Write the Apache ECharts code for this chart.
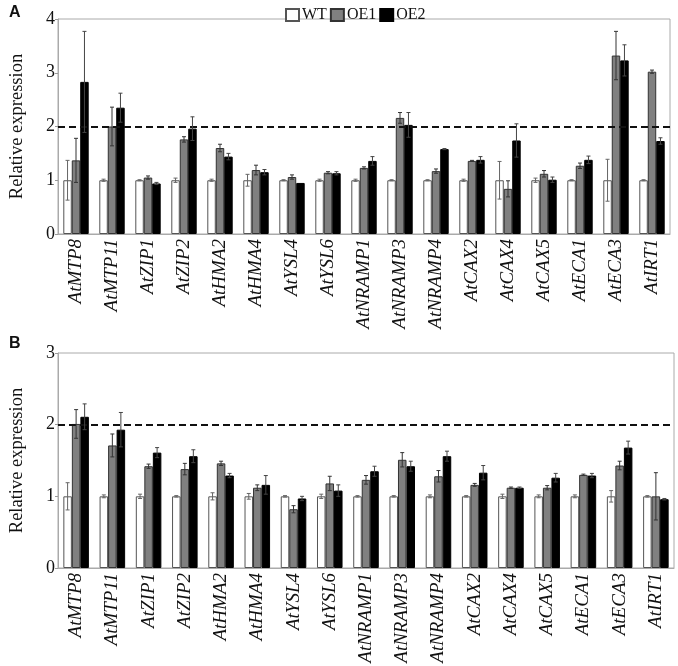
<!DOCTYPE html>
<html><head><meta charset="utf-8">
<script src="https://cdn.jsdelivr.net/npm/echarts@6/dist/echarts.min.js"></script>
<style>html,body{margin:0;padding:0;background:#fff}#c{width:678px;height:666px}</style>
</head><body><div id="c"></div>
<script>
var categories = ['AtMTP8','AtMTP11','AtZIP1','AtZIP2','AtHMA2','AtHMA4','AtYSL4','AtYSL6','AtNRAMP1','AtNRAMP3','AtNRAMP4','AtCAX2','AtCAX4','AtCAX5','AtECA1','AtECA3','AtIRT1'];
var yTicksA = [0,1,2,3,4];
var yTicksB = [0,1,2,3];

var wtA     = [1,1,1,1,1,1,1,1,1,1,1,1,1,1,1,1,1];
var wtErrA  = [0.37,0.02,0.01,0.04,0.02,0.11,0.01,0.02,0.02,0.01,0.01,0.02,0.35,0.04,0.01,0.39,0.01];
var oe1A    = [1.37,2.00,1.05,1.76,1.60,1.19,1.06,1.14,1.23,2.16,1.17,1.36,0.84,1.12,1.27,3.32,3.02];
var oe1ErrA = [0.41,0.36,0.03,0.05,0.07,0.09,0.04,0.02,0.02,0.10,0.04,0.01,0.15,0.06,0.05,0.45,0.03];
var oe2A    = [2.83,2.35,0.94,1.96,1.44,1.15,0.95,1.13,1.36,2.03,1.58,1.38,1.74,1.01,1.38,3.23,1.73];
var oe2ErrA = [0.94,0.27,0.02,0.22,0.06,0.05,0.00,0.03,0.08,0.23,0.01,0.06,0.31,0.05,0.07,0.29,0.06];

var wtB     = [1,1,1,1,1,1,1,1,1,1,1,1,1,1,1,1,1];
var wtErrB  = [0.19,0.02,0.03,0.01,0.05,0.04,0.01,0.03,0.01,0.01,0.02,0.01,0.03,0.02,0.02,0.08,0.01];
var oe1B    = [2.01,1.71,1.42,1.38,1.46,1.12,0.82,1.18,1.23,1.51,1.28,1.16,1.12,1.12,1.30,1.43,1.00];
var oe1ErrB = [0.20,0.16,0.03,0.08,0.03,0.04,0.05,0.10,0.06,0.10,0.08,0.02,0.01,0.03,0.01,0.06,0.33];
var oe2B    = [2.11,1.93,1.61,1.56,1.29,1.16,0.97,1.08,1.35,1.42,1.56,1.33,1.12,1.26,1.29,1.68,0.96];
var oe2ErrB = [0.18,0.24,0.07,0.09,0.03,0.13,0.03,0.08,0.07,0.07,0.07,0.10,0.01,0.06,0.03,0.09,0.01];

var refLine = 2;
var serif = "'Liberation Serif','Times New Roman',serif";
var BW = 0.235;

function errSeries(vals, errs, k, offset, color) {
  return {
    type: 'custom', xAxisIndex: k, yAxisIndex: k, z: 5, silent: true,
    data: vals.map(function (v, i) { return [i, v, errs[i]]; }),
    encode: { x: 0, y: 1 },
    renderItem: function (params, api) {
      var i = api.value(0), v = api.value(1), e = api.value(2);
      if (!e) return null;
      var c = api.coord([i, v]);
      var band = api.size([1, 0])[0];
      var x = c[0] + offset * band * BW;
      var yt = api.coord([i, v + e])[1];
      var yb = api.coord([i, v - e])[1];
      var cw = 2;
      var st = { stroke: color, lineWidth: 1 };
      return { type: 'group', children: [
        { type: 'line', shape: { x1: x, y1: yt, x2: x, y2: yb }, style: st },
        { type: 'line', shape: { x1: x - cw, y1: yt, x2: x + cw, y2: yt }, style: st },
        { type: 'line', shape: { x1: x - cw, y1: yb, x2: x + cw, y2: yb }, style: st }
      ]};
    }
  };
}

function barSeries(name, vals, k, fill, border) {
  return {
    name: name, type: 'bar', xAxisIndex: k, yAxisIndex: k, data: vals,
    barWidth: (BW * 100) + '%', barGap: '0%',
    itemStyle: { color: fill, borderColor: border, borderWidth: 1 }
  };
}

function xAxis(k) {
  return {
    type: 'category', gridIndex: k, data: categories,
    axisLine: { lineStyle: { color: '#aaa', width: 1 } },
    axisTick: { show: false },
    axisLabel: { interval: 0, rotate: 90, fontFamily: serif, fontStyle: 'italic', fontSize: 19, color: '#111', margin: 5 }
  };
}
function yAxis(k, ticks) {
  return {
    type: 'value', gridIndex: k, min: ticks[0], max: ticks[ticks.length - 1], interval: 1,
    name: 'Relative expression', nameLocation: 'middle', nameGap: 31,
    nameTextStyle: { fontFamily: serif, fontSize: 18.5, color: '#111' },
    axisLine: { show: true, lineStyle: { color: '#aaa' } },
    axisTick: { show: true, length: 3, lineStyle: { color: '#999' } },
    splitLine: { show: false },
    axisLabel: { fontFamily: serif, fontSize: 18, color: '#111', margin: 3 }
  };
}

var series = [];
[[wtA, wtErrA, oe1A, oe1ErrA, oe2A, oe2ErrA], [wtB, wtErrB, oe1B, oe1ErrB, oe2B, oe2ErrB]].forEach(function (d, k) {
  var wt = barSeries('WT', d[0], k, '#ffffff', '#555');
  wt.markLine = {
    silent: true, symbol: 'none', label: { show: false },
    lineStyle: { color: '#111', type: [7, 4], width: 2 },
    data: [{ yAxis: refLine }]
  };
  series.push(wt);
  series.push(barSeries('OE1', d[2], k, '#808080', '#333'));
  series.push(barSeries('OE2', d[4], k, '#000000', '#000'));
  series.push(errSeries(d[0], d[1], k, -1, '#666'));
  series.push(errSeries(d[2], d[3], k, 0, '#333'));
  series.push(errSeries(d[4], d[5], k, 1, '#444'));
});

var chart = echarts.init(document.getElementById('c'), null, { renderer: 'canvas' });
chart.setOption({
  animation: false,
  backgroundColor: '#fff',
  legend: {
    data: ['WT', 'OE1', 'OE2'], left: 280, top: 2, itemGap: 3, itemWidth: 13, itemHeight: 12,
    icon: 'rect',
    textStyle: { fontFamily: serif, fontSize: 16, color: '#111', padding: [0, 0, 0, -2] }
  },
  title: [
    { text: 'A', left: 4, top: 0, textStyle: { fontFamily: "'Liberation Sans',Arial,sans-serif", fontWeight: 'bold', fontSize: 16, color: '#111' } },
    { text: 'B', left: 4, top: 331, textStyle: { fontFamily: "'Liberation Sans',Arial,sans-serif", fontWeight: 'bold', fontSize: 16, color: '#111' } }
  ],
  grid: [
    { left: 55, right: 8, top: 19, bottom: 432, show: true, borderColor: '#aaa', borderWidth: 1 },
    { left: 58, right: 4, top: 353, bottom: 98, show: true, borderColor: '#aaa', borderWidth: 1 }
  ],
  xAxis: [xAxis(0), xAxis(1)],
  yAxis: [yAxis(0, yTicksA), yAxis(1, yTicksB)],
  series: series
});
</script></body></html>
